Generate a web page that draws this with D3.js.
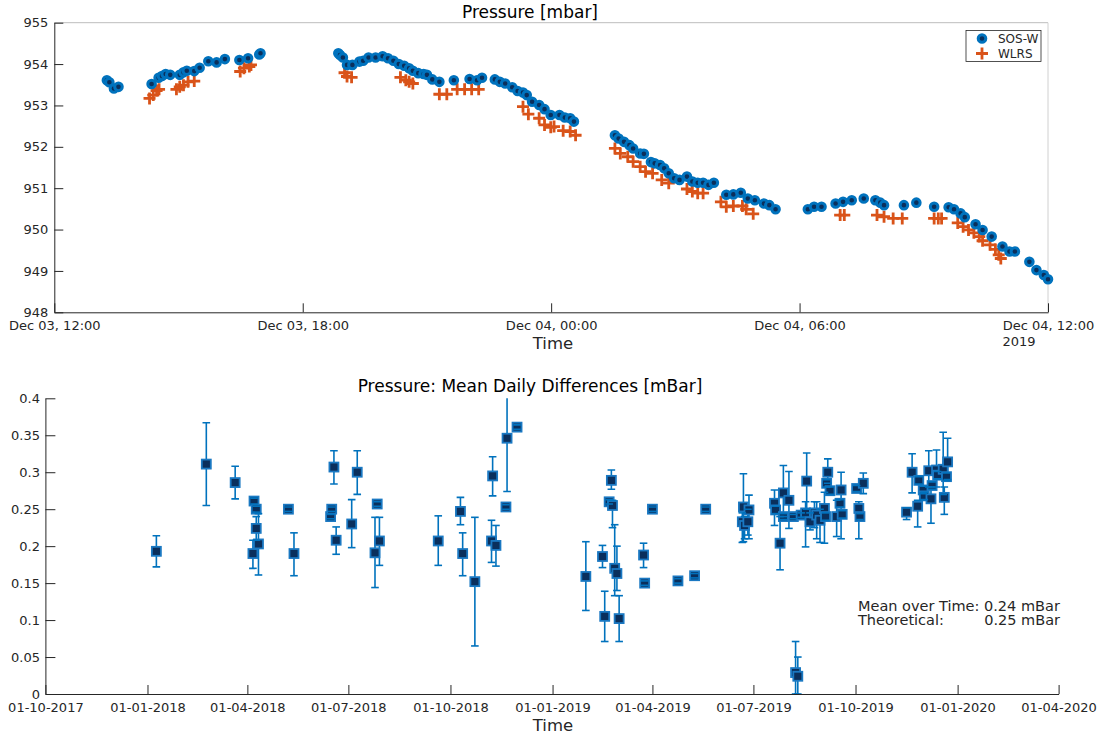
<!DOCTYPE html>
<html>
<head>
<meta charset="utf-8">
<script src="https://cdn.jsdelivr.net/npm/d3@7"></script>
<style>
  body { margin: 0; background: #fff; }
  text { font-family: "DejaVu Sans", sans-serif; }
</style>
</head>
<body>
<svg id="fig" width="1104" height="735"></svg>
<script>
// ---- Upper panel: pressure series, hours after 03 Dec 2019 12:00 ----
const seriesStart = new Date(2019, 11, 3, 12, 0);
const seriesNames = ["SOS-W", "WLRS"];

const sosHours = [1.27,1.33,1.44,1.55,2.35,2.52,2.60,2.69,2.80,3.03,3.12,3.20,3.38,3.51,3.72,3.92,4.12,4.47,4.68,4.95,4.98,
  6.86,6.90,6.97,7.07,7.20,7.37,7.46,7.59,7.76,7.93,8.06,8.19,8.32,8.45,8.57,8.66,8.79,8.92,9.00,9.13,9.30,9.65,10.03,10.21,10.33,
  10.64,10.76,10.89,11.06,11.19,11.32,11.41,11.54,11.71,11.84,11.99,12.20,12.33,12.46,12.55,
  13.54,13.63,13.76,13.89,13.98,14.15,14.24,14.41,14.50,14.63,14.73,14.84,14.97,15.10,15.28,15.41,15.54,15.67,15.80,15.93,
  16.23,16.40,16.58,16.75,16.92,17.14,17.27,17.42,18.20,18.35,18.53,18.87,19.05,19.26,19.55,19.83,19.95,20.04,20.52,20.82,
  21.25,21.60,21.73,21.89,21.99,22.25,22.42,22.64,22.90,23.07,23.20,23.55,23.72,23.90,24.00];
const sosPressure = [953.61,953.56,953.41,953.45,953.52,953.67,953.71,953.76,953.74,953.74,953.80,953.84,953.83,953.91,954.07,954.04,954.12,954.10,954.14,954.23,954.26,
  954.26,954.22,954.16,953.98,953.98,954.06,954.08,954.16,954.16,954.19,954.14,954.08,954.00,953.96,953.90,953.84,953.78,953.76,953.74,953.63,953.57,953.61,953.64,953.61,953.67,
  953.63,953.57,953.53,953.44,953.35,953.31,953.25,953.09,953.01,952.91,952.77,952.77,952.71,952.69,952.61,
  952.28,952.20,952.12,952.04,951.96,951.84,951.83,951.63,951.60,951.56,951.48,951.36,951.24,951.20,951.28,951.16,951.13,951.13,951.08,951.13,
  950.84,950.85,950.89,950.75,950.71,950.63,950.59,950.49,950.49,950.55,950.55,950.63,950.67,950.71,950.75,950.71,950.65,950.59,950.59,950.65,
  950.55,950.54,950.49,950.39,950.30,950.13,949.99,949.83,949.59,949.47,949.47,949.22,949.02,948.90,948.80];

const wlrsHours = [2.30,2.39,2.47,2.53,2.95,3.03,3.12,3.23,3.38,4.49,4.58,4.71,4.75,
  7.01,7.07,7.18,8.36,8.49,8.57,8.66,9.30,9.48,9.73,9.91,10.08,10.25,
  11.32,11.45,11.71,11.84,11.99,12.07,12.29,12.46,12.59,
  13.54,13.67,13.85,13.98,14.15,14.28,14.45,14.67,14.84,15.28,15.41,15.54,15.67,
  16.10,16.23,16.40,16.62,16.71,16.88,18.98,19.08,19.87,20.04,20.26,20.48,21.25,21.35,21.43,
  21.82,21.95,22.08,22.21,22.34,22.42,22.60,22.73,22.81,22.86];
const wlrsPressure = [953.17,953.25,953.36,953.39,953.39,953.45,953.49,953.57,953.59,953.82,953.90,953.94,953.98,
  953.79,953.70,953.68,953.68,953.61,953.57,953.53,953.27,953.27,953.39,953.39,953.39,953.39,
  952.97,952.79,952.69,952.53,952.47,952.49,952.39,952.37,952.28,
  951.96,951.84,951.76,951.64,951.52,951.40,951.36,951.20,951.12,950.98,950.92,950.88,950.88,
  950.67,950.55,950.57,950.57,950.49,950.38,950.35,950.35,950.35,950.31,950.27,950.27,950.27,950.27,950.27,
  950.16,950.07,949.99,949.92,949.83,949.73,949.63,949.52,949.39,949.30];

// ---- Lower panel: mean daily differences with spread ----
const diffDates = [
  "2018-01-09","2018-02-23","2018-03-21","2018-04-07","2018-04-09","2018-04-09","2018-04-06","2018-04-11",
  "2018-05-08","2018-05-13","2018-06-15","2018-06-16","2018-06-18","2018-06-20","2018-07-04","2018-07-09",
  "2018-07-25","2018-07-27","2018-07-29","2018-09-20","2018-10-10","2018-10-12","2018-10-23","2018-11-08",
  "2018-11-07","2018-11-11","2018-11-20","2018-11-21","2018-11-30",
  "2019-01-31","2019-02-15","2019-02-17","2019-02-21","2019-02-23","2019-02-24","2019-02-26","2019-02-28",
  "2019-03-02","2019-03-24","2019-03-25","2019-04-01","2019-04-24","2019-05-09","2019-05-19",
  "2019-06-22","2019-06-21","2019-06-23","2019-06-27","2019-06-26",
  "2019-07-20","2019-07-21","2019-07-25","2019-07-28","2019-07-28","2019-08-02","2019-08-06","2019-08-13",
  "2019-08-08","2019-08-10",
  "2019-08-18","2019-08-17","2019-08-21","2019-08-25","2019-08-27","2019-08-30","2019-09-03","2019-09-04",
  "2019-09-06","2019-09-05","2019-09-08","2019-09-14","2019-09-17","2019-09-18","2019-09-19",
  "2019-10-02","2019-10-08","2019-10-04","2019-10-05",
  "2019-11-16","2019-11-21","2019-11-26","2019-11-27","2019-12-01","2019-12-02","2019-12-06","2019-12-08",
  "2019-12-09","2019-12-13","2019-12-14","2019-12-19","2019-12-20","2019-12-22","2019-12-23"];
const diffMean = [
  0.193,0.311,0.286,0.261,0.250,0.224,0.190,0.203,
  0.250,0.190,0.240,0.250,0.307,0.208,0.230,0.300,
  0.191,0.257,0.207,0.207,0.247,0.190,0.152,0.295,
  0.207,0.201,0.253,0.346,0.361,
  0.159,0.186,0.105,0.260,0.289,0.255,0.170,0.163,
  0.102,0.188,0.150,0.250,0.153,0.160,0.250,
  0.253,0.233,0.228,0.249,0.233,
  0.258,0.249,0.204,0.240,0.272,0.262,0.240,0.242,
  0.029,0.024,
  0.288,0.245,0.233,0.245,0.242,0.235,0.251,0.240,
  0.300,0.285,0.275,0.240,0.258,0.276,0.243,
  0.278,0.285,0.251,0.240,
  0.246,0.300,0.254,0.289,0.276,0.268,0.302,0.264,
  0.282,0.303,0.296,0.304,0.266,0.294,0.314];
const diffLow = [
  0.172,0.255,0.264,0.257,0.246,0.208,0.170,0.161,
  0.247,0.160,0.237,0.247,0.284,0.189,0.198,0.270,
  0.144,0.254,0.174,0.174,0.229,0.160,0.065,0.268,
  0.178,0.173,0.250,0.274,0.358,
  0.113,0.171,0.071,0.257,0.277,0.225,0.133,0.140,
  0.071,0.171,0.147,0.247,0.150,0.157,0.247,
  0.206,0.205,0.210,0.210,0.215,
  0.228,0.244,0.168,0.236,0.240,0.224,0.237,0.239,
  0.000,0.000,
  0.250,0.199,0.222,0.225,0.210,0.205,0.204,0.235,
  0.285,0.280,0.270,0.213,0.253,0.210,0.238,
  0.274,0.271,0.210,0.236,
  0.236,0.272,0.226,0.284,0.271,0.263,0.280,0.231,
  0.277,0.280,0.291,0.270,0.243,0.289,0.290];
const diffHigh = [
  0.214,0.367,0.308,0.265,0.254,0.240,0.208,0.244,
  0.253,0.218,0.243,0.253,0.329,0.226,0.263,0.329,
  0.239,0.260,0.239,0.241,0.266,0.218,0.239,0.321,
  0.235,0.228,0.256,0.420,0.364,
  0.206,0.201,0.139,0.263,0.303,0.262,0.229,0.200,
  0.133,0.204,0.153,0.253,0.156,0.163,0.253,
  0.298,0.245,0.240,0.269,0.250,
  0.276,0.254,0.240,0.244,0.309,0.301,0.243,0.245,
  0.071,0.050,
  0.326,0.260,0.245,0.260,0.260,0.250,0.273,0.245,
  0.318,0.290,0.280,0.262,0.263,0.300,0.248,
  0.282,0.299,0.260,0.244,
  0.252,0.325,0.262,0.294,0.281,0.273,0.329,0.280,
  0.287,0.330,0.301,0.354,0.280,0.299,0.346];

const annotationLines = ["Mean over Time: 0.24 mBar", "Theoretical:", "0.25 mBar"];

// ---- drawing ----
const svg = d3.select("#fig");
const axisColor = "#262626";
const blue = "#0072BD", navy = "#0a2f5c", orange = "#D95319";

function styleAxis(g, fontSize) {
  g.select(".domain").attr("stroke", axisColor).attr("stroke-width", 1);
  g.selectAll(".tick line").attr("stroke", axisColor).attr("stroke-width", 1);
  g.selectAll(".tick text").attr("fill", axisColor).attr("font-size", fontSize)
    .attr("font-family", "DejaVu Sans, sans-serif");
}

// Upper panel
const upperBox = { left: 54.3, right: 1048, top: 22.7, bottom: 312.3 };
const xT = d3.scaleTime()
  .domain([seriesStart, new Date(seriesStart.getTime() + 24 * 3600e3)])
  .range([upperBox.left, upperBox.right]);
const yT = d3.scaleLinear().domain([948, 955]).range([upperBox.bottom, upperBox.top]);
const toDate = h => new Date(seriesStart.getTime() + h * 3600e3);

// box edges
svg.append("line").attr("x1", upperBox.left).attr("x2", upperBox.right)
  .attr("y1", upperBox.top).attr("y2", upperBox.top).attr("stroke", "#bdbdbd");
svg.append("line").attr("x1", upperBox.right).attr("x2", upperBox.right)
  .attr("y1", upperBox.top).attr("y2", upperBox.bottom).attr("stroke", "#d0d0d0");

const gxT = svg.append("g").attr("transform", `translate(0,${upperBox.bottom})`)
  .call(d3.axisBottom(xT).ticks(d3.timeHour.every(6)).tickFormat(d3.timeFormat("%b %d, %H:%M"))
    .tickSizeInner(-9).tickSizeOuter(0).tickPadding(8.5));
styleAxis(gxT, 13);
const gyT = svg.append("g").attr("transform", `translate(${upperBox.left},0)`)
  .call(d3.axisLeft(yT).tickValues(d3.range(948, 956, 1)).tickFormat(d3.format("d"))
    .tickSizeInner(-9).tickSizeOuter(0).tickPadding(6));
styleAxis(gyT, 13);

svg.append("text").attr("x", 1002.5).attr("y", 341.7).attr("dy", "0.35em")
  .attr("font-size", 13).attr("fill", axisColor).text("2019");
svg.append("text").attr("x", 553).attr("y", 343).attr("dy", "0.35em").attr("text-anchor", "middle")
  .attr("font-size", 16.5).attr("fill", axisColor).text("Time");
svg.append("text").attr("x", 530).attr("y", 12).attr("dy", "0.35em").attr("text-anchor", "middle")
  .attr("font-size", 17).attr("fill", "#000").text("Pressure [mbar]");

const plus = "M-6,0H6M0,-6V6";
svg.append("g").selectAll("path").data(wlrsHours.map((h, i) => [h, wlrsPressure[i]])).join("path")
  .attr("d", plus).attr("transform", d => `translate(${xT(toDate(d[0]))},${yT(d[1])})`)
  .attr("stroke", orange).attr("stroke-width", 2.8).attr("fill", "none");
svg.append("g").selectAll("circle").data(sosHours.map((h, i) => [h, sosPressure[i]])).join("circle")
  .attr("cx", d => xT(toDate(d[0]))).attr("cy", d => yT(d[1])).attr("r", 3.8)
  .attr("fill", navy).attr("stroke", blue).attr("stroke-width", 3);

// legend
const lg = svg.append("g");
lg.append("rect").attr("x", 966).attr("y", 30.5).attr("width", 75).attr("height", 31)
  .attr("fill", "#fff").attr("stroke", axisColor).attr("stroke-width", 0.8);
lg.append("circle").attr("cx", 982).attr("cy", 38.5).attr("r", 3.8)
  .attr("fill", navy).attr("stroke", blue).attr("stroke-width", 3);
lg.append("path").attr("d", plus).attr("transform", "translate(982,53.5)")
  .attr("stroke", orange).attr("stroke-width", 2.8);
lg.selectAll("text.lab").data(seriesNames).join("text").attr("class", "lab")
  .attr("x", 998).attr("y", (d, i) => 38.5 + i * 15).attr("dy", "0.35em")
  .attr("font-size", 12).attr("fill", axisColor).text(d => d);

// Lower panel
const lowerBox = { left: 45.4, right: 1058.6, top: 398.3, bottom: 694 };
const parse = d3.timeParse("%Y-%m-%d");
const xB = d3.scaleTime().domain([new Date(2017, 9, 1), new Date(2020, 3, 1)])
  .range([lowerBox.left, lowerBox.right]);
const yB = d3.scaleLinear().domain([0, 0.4]).range([lowerBox.bottom, lowerBox.top]);

const gxB = svg.append("g").attr("transform", `translate(0,${lowerBox.bottom})`)
  .call(d3.axisBottom(xB).ticks(d3.timeMonth.every(3)).tickFormat(d3.timeFormat("%d-%m-%Y"))
    .tickSizeInner(-9).tickSizeOuter(0).tickPadding(8.8));
styleAxis(gxB, 13);
const gyB = svg.append("g").attr("transform", `translate(${lowerBox.left},0)`)
  .call(d3.axisLeft(yB).tickValues(d3.range(0, 0.401, 0.05)).tickFormat(d => String(+d.toFixed(2)))
    .tickSizeInner(-10).tickSizeOuter(0).tickPadding(5.4));
styleAxis(gyB, 13);

svg.append("text").attr("x", 553).attr("y", 725).attr("dy", "0.35em").attr("text-anchor", "middle")
  .attr("font-size", 16.5).attr("fill", axisColor).text("Time");
svg.append("text").attr("x", 530).attr("y", 386).attr("dy", "0.35em").attr("text-anchor", "middle")
  .attr("font-size", 17).attr("fill", "#000").text("Pressure: Mean Daily Differences [mBar]");

svg.append("defs").append("clipPath").attr("id", "botClip").append("rect")
  .attr("x", lowerBox.left).attr("y", lowerBox.top)
  .attr("width", lowerBox.right - lowerBox.left + 10).attr("height", lowerBox.bottom - lowerBox.top);

const pts = diffDates.map((d, i) => ({ t: parse(d), m: diffMean[i], lo: diffLow[i], hi: diffHigh[i] }));
const eb = svg.append("g").attr("clip-path", "url(#botClip)");
const cap = 3.8;
eb.selectAll("line.bar").data(pts).join("line").attr("class", "bar")
  .attr("x1", d => xB(d.t)).attr("x2", d => xB(d.t))
  .attr("y1", d => yB(d.lo)).attr("y2", d => yB(d.hi))
  .attr("stroke", blue).attr("stroke-width", 1.6);
eb.selectAll("rect").data(pts).join("rect")
  .attr("x", d => xB(d.t) - 4.5).attr("y", d => yB(d.m) - 4.5).attr("width", 9).attr("height", 9)
  .attr("fill", navy).attr("stroke", "#1a78c2").attr("stroke-width", 1.8);
const caps = pts.flatMap(d => [{ t: d.t, v: d.lo }, { t: d.t, v: d.hi }]);
eb.selectAll("line.cap").data(caps).join("line").attr("class", "cap")
  .attr("x1", d => xB(d.t) - cap).attr("x2", d => xB(d.t) + cap)
  .attr("y1", d => yB(d.v)).attr("y2", d => yB(d.v))
  .attr("stroke", blue).attr("stroke-width", 1.6);

// summary note
const note = svg.append("g").attr("fill", axisColor).attr("font-size", 14.5);
note.append("text").attr("x", 858).attr("y", 606).attr("dy", "0.35em").text(annotationLines[0]);
note.append("text").attr("x", 858).attr("y", 620).attr("dy", "0.35em").text(annotationLines[1]);
note.append("text").attr("x", 1060).attr("y", 620).attr("dy", "0.35em").attr("text-anchor", "end").text(annotationLines[2]);
</script>
</body>
</html>
